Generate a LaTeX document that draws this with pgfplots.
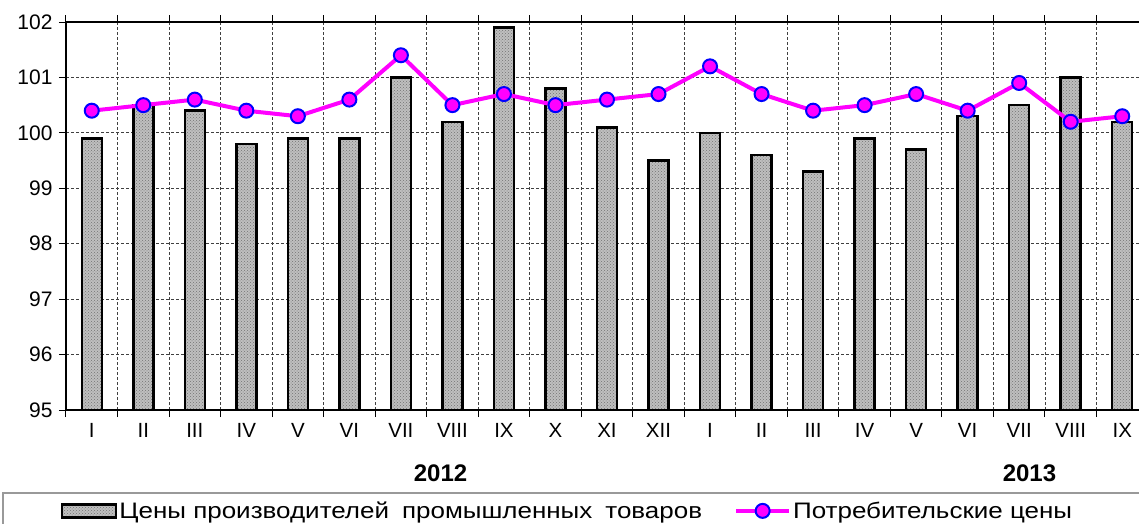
\documentclass[border=0pt]{standalone}
\usepackage{pgfplots}
\pgfplotsset{compat=1.18}
\usepackage{fontspec}
\setmainfont{Liberation Sans}
\newfontfamily\legfont[FakeStretch=1.16]{Liberation Sans}
\usetikzlibrary{patterns}
\definecolor{mag}{RGB}{255,0,255}
\definecolor{mblue}{RGB}{0,0,255}
\pgfplotsset{
  barleg/.style={legend image code/.code={\draw[##1] (0pt,-6.5pt) rectangle (54pt,6.5pt);}},
  lineleg/.style={legend image code/.code={\draw[mark repeat=2,mark phase=2,##1] plot coordinates {(0pt,0pt) (26.5pt,0pt) (53pt,0pt)};}},
}
\begin{document}
\begin{tikzpicture}
\path[use as bounding box] (-66pt,-114pt) rectangle (1073pt,410pt);
\begin{axis}[
  scale only axis, width=1082pt, height=388pt,
  at={(0pt,0pt)}, anchor=south west,
  xmin=-0.5, xmax=20.5, ymin=95, ymax=102,
  xtick={0,...,20},
  xticklabels={I,II,III,IV,V,VI,VII,VIII,IX,X,XI,XII,I,II,III,IV,V,VI,VII,VIII,IX},
  minor xtick={-0.5,0.5,...,20.5},
  ytick={95,...,102},
  ymajorgrids, xminorgrids,
  major grid style={dashed, black!75, line width=0.9pt, dash pattern=on 3pt off 2pt},
  minor grid style={dashed, black!75, line width=0.9pt, dash pattern=on 3pt off 2pt},
  tick align=outside, major tick length=7pt, minor tick length=7pt,
  major x tick style={draw=none},
  tick style={black, line width=1pt},
  axis line style={black, line width=1.3pt},
  yticklabel style={font=\fontsize{21}{24}\selectfont, xshift=-3pt},
  xticklabel style={font=\fontsize{20.5}{24}\selectfont, yshift=-3pt},
  /pgf/number format/assume math mode=true,
  clip mode=individual,
  legend columns=2,
  legend style={at={(0.4635,-0.260)}, anchor=center, draw=none, fill=none,
    font=\legfont\fontsize{22.4}{26}\selectfont,
    /tikz/every even column/.append style={column sep=30pt}},
]
\addplot[ybar, bar width=20pt, draw=black, line width=2.5pt,
  fill=black!25, postaction={pattern=crosshatch dots, pattern color=black!55},
  barleg]
  table {
x y
0 99.9
1 100.5
2 100.4
3 99.8
4 99.9
5 99.9
6 101.0
7 100.2
8 101.9
9 100.8
10 100.1
11 99.5
12 100.0
13 99.6
14 99.3
15 99.9
16 99.7
17 100.3
18 100.5
19 101.0
20 100.2
};
\addlegendentry{Цены производителей\hspace{13pt}промышленных\hspace{13pt}товаров}
\addplot[mag, line width=4pt, mark=*, mark size=7pt,
  mark options={fill=mag, draw=mblue, line width=2pt},
  lineleg]
  table {
x y
0 100.4
1 100.5
2 100.6
3 100.4
4 100.3
5 100.6
6 101.4
7 100.5
8 100.7
9 100.5
10 100.6
11 100.7
12 101.2
13 100.7
14 100.4
15 100.5
16 100.7
17 100.4
18 100.9
19 100.2
20 100.3
};
\addlegendentry{Потребительские цены}
\node[font=\bfseries\fontsize{24}{28}\selectfont] at (axis cs:6.77,93.86) {2012};
\node[font=\bfseries\fontsize{24}{28}\selectfont] at (axis cs:18.2,93.86) {2013};
\end{axis}
\draw[black!40, line width=1.5pt] (-63pt,-83pt) rectangle (1079pt,-120pt);
\end{tikzpicture}
\end{document}
